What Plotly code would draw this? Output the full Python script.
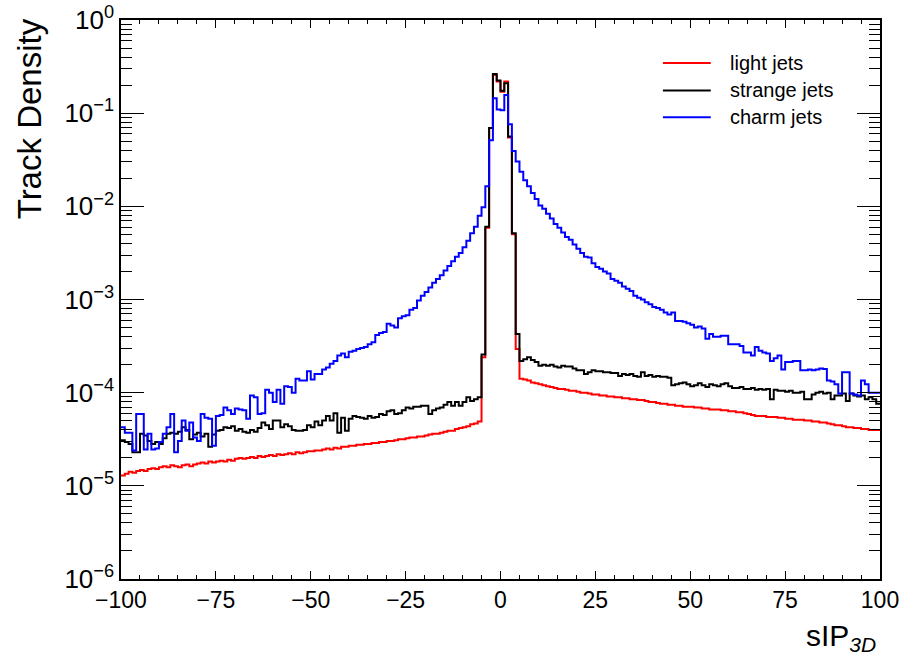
import plotly.graph_objects as go

# Histogram binning: 200 bins of width 1 in sIP3D, from -100 to 100
bin_low = list(range(-100, 100))
bin_width = 1

# Track density per bin, stored as log10(density)
light_log10 = [
    -4.89, -4.87, -4.85, -4.86, -4.84, -4.83, -4.84, -4.82, -4.81, -4.82,
    -4.80, -4.79, -4.80, -4.78, -4.79, -4.80, -4.78, -4.77, -4.79, -4.77,
    -4.76, -4.75, -4.76, -4.74, -4.75, -4.74, -4.73, -4.74, -4.72, -4.73,
    -4.71, -4.70, -4.71, -4.70, -4.69, -4.70, -4.68, -4.69, -4.68, -4.67,
    -4.68, -4.66, -4.67, -4.66, -4.65, -4.66, -4.64, -4.65, -4.64, -4.63,
    -4.63, -4.62, -4.62, -4.61, -4.60, -4.61, -4.59, -4.60, -4.58, -4.58,
    -4.57, -4.57, -4.56, -4.56, -4.55, -4.55, -4.54, -4.54, -4.53, -4.53,
    -4.52, -4.52, -4.51, -4.50, -4.50, -4.49, -4.48, -4.48, -4.47, -4.47,
    -4.46, -4.45, -4.44, -4.44, -4.43, -4.42, -4.41, -4.41, -4.39, -4.38,
    -4.37, -4.36, -4.34, -4.33, -4.31,
    -3.62, -2.23, -1.16, -0.59, -0.66, -0.77, -0.66, -1.26, -2.30, -3.53,
    -3.85, -3.86, -3.87, -3.89, -3.90, -3.91, -3.92, -3.93, -3.94, -3.95,
    -3.96, -3.96, -3.97, -3.98, -3.98, -3.99, -4.00, -4.00, -4.01, -4.02,
    -4.02, -4.03, -4.03, -4.04, -4.04, -4.05, -4.05, -4.06, -4.06, -4.07,
    -4.07, -4.08, -4.08, -4.09, -4.10, -4.10, -4.11, -4.12, -4.12, -4.13,
    -4.13, -4.14, -4.14, -4.15, -4.15, -4.15, -4.16, -4.16, -4.17, -4.17,
    -4.18, -4.18, -4.18, -4.19, -4.19, -4.20, -4.20, -4.21, -4.21, -4.22,
    -4.23, -4.24, -4.25, -4.25, -4.25, -4.26, -4.26, -4.26, -4.27, -4.27,
    -4.28, -4.28, -4.29, -4.29, -4.29, -4.30, -4.30, -4.31, -4.31, -4.32,
    -4.32, -4.33, -4.34, -4.35, -4.35, -4.36, -4.37, -4.37, -4.38, -4.38,
    -4.39, -4.39, -4.40, -4.40, -4.40,
]

strange_log10 = [
    -4.51, -4.53, -4.55, -4.64, -4.64, -4.44, -4.46, -4.52, -4.55, -4.53,
    -4.55, -4.49, -4.44, -4.43, -4.44, -4.42, -4.37, -4.40, -4.50, -4.45,
    -4.43, -4.47, -4.44, -4.58, -4.45, -4.41, -4.40, -4.37, -4.38, -4.36,
    -4.41, -4.39, -4.42, -4.43, -4.40, -4.42, -4.38, -4.32, -4.35, -4.39,
    -4.30, -4.30, -4.37, -4.34, -4.36, -4.40, -4.41, -4.41, -4.40, -4.35,
    -4.37, -4.31, -4.35, -4.30, -4.25, -4.30, -4.22, -4.43, -4.27, -4.41,
    -4.28, -4.25, -4.26, -4.27, -4.28, -4.25, -4.27, -4.26, -4.23, -4.24,
    -4.20, -4.19, -4.23, -4.22, -4.19, -4.16, -4.17, -4.15, -4.15, -4.14,
    -4.14, -4.23, -4.19, -4.17, -4.16, -4.13, -4.10, -4.14, -4.10, -4.14,
    -4.10, -4.05, -4.09, -4.07, -4.05,
    -3.59, -2.22, -1.16, -0.58, -0.65, -0.76, -0.68, -1.25, -2.29, -3.37,
    -3.66, -3.64, -3.62, -3.65, -3.67, -3.71, -3.70, -3.71, -3.70, -3.72,
    -3.73, -3.71, -3.72, -3.72, -3.74, -3.76, -3.76, -3.80, -3.78, -3.76,
    -3.77, -3.77, -3.78, -3.78, -3.79, -3.79, -3.82, -3.80, -3.81, -3.80,
    -3.82, -3.83, -3.78, -3.82, -3.81, -3.83, -3.82, -3.83, -3.83, -3.84,
    -3.92, -3.91, -3.90, -3.89, -3.91, -3.93, -3.92, -3.90, -3.92, -3.94,
    -3.91, -3.92, -3.93, -3.91, -3.90, -3.93, -3.95, -3.95, -3.94, -3.96,
    -3.96, -3.95, -3.97, -3.96, -3.97, -3.96, -4.07, -3.97, -3.98, -3.98,
    -3.99, -3.98, -4.00, -4.00, -3.99, -4.07, -4.07, -4.02, -4.00, -3.99,
    -4.01, -4.00, -4.07, -4.03, -4.03, -4.01, -4.09, -4.01, -4.03, -4.04,
    -4.03, -4.07, -4.05, -4.07, -4.12,
]

charm_log10 = [
    -4.37, -4.43, -4.43, -4.62, -4.23, -4.23, -4.61, -4.44, -4.61, -4.60,
    -4.53, -4.44, -4.37, -4.23, -4.64, -4.52, -4.30, -4.41, -4.32, -4.48,
    -4.52, -4.23, -4.27, -4.28, -4.57, -4.25, -4.24, -4.16, -4.19, -4.23,
    -4.17, -4.18, -4.19, -4.28, -4.03, -4.05, -4.23, -4.22, -3.97, -4.00,
    -4.10, -3.97, -4.12, -3.93, -3.94, -4.00, -3.85, -3.87, -3.87, -3.77,
    -3.86, -3.80, -3.80, -3.75, -3.73, -3.69, -3.66, -3.60, -3.58, -3.62,
    -3.56, -3.55, -3.53, -3.52, -3.51, -3.48, -3.46, -3.38, -3.36, -3.35,
    -3.26, -3.28, -3.30, -3.20, -3.18, -3.17, -3.11, -3.09, -3.01, -2.96,
    -2.92, -2.87, -2.82, -2.78, -2.74, -2.69, -2.64, -2.59, -2.54, -2.50,
    -2.44, -2.37, -2.29, -2.22, -2.10,
    -2.01, -1.785, -1.29, -0.84, -0.96, -0.97, -0.806, -1.12, -1.405, -1.52,
    -1.63, -1.72, -1.785, -1.857, -1.92, -1.99, -2.025, -2.08, -2.13, -2.19,
    -2.23, -2.28, -2.33, -2.36, -2.41, -2.455, -2.50, -2.54, -2.55, -2.61,
    -2.65, -2.67, -2.70, -2.72, -2.78, -2.80, -2.82, -2.86, -2.885, -2.91,
    -2.96, -2.98, -3.00, -3.03, -3.05, -3.08, -3.09, -3.11, -3.14, -3.16,
    -3.14, -3.23, -3.23, -3.24, -3.255, -3.27, -3.30, -3.29, -3.31, -3.42,
    -3.37, -3.40, -3.40, -3.39, -3.39, -3.48, -3.48, -3.48, -3.50, -3.57,
    -3.57, -3.60, -3.51, -3.55, -3.57, -3.58, -3.66, -3.63, -3.60, -3.75,
    -3.67, -3.67, -3.66, -3.66, -3.76, -3.76, -3.75, -3.76, -3.75, -3.74,
    -3.745, -3.87, -3.88, -3.91, -4.01, -3.78, -3.78, -4.01, -4.02, -4.03,
    -3.87, -3.91, -4.00, -4.00, -4.00,
]

series = [
    ("light jets", light_log10, "#ff0000"),
    ("strange jets", strange_log10, "#000000"),
    ("charm jets", charm_log10, "#0000ff"),
]

y_tick_exponents = [-6, -5, -4, -3, -2, -1, 0]
FONT = "Liberation Sans, Arial, Helvetica, sans-serif"

fig = go.Figure()

for name, logs, color in series:
    dens = [10 ** v for v in logs]
    # step outline: each bin value held from its low edge to its high edge
    xs = bin_low + [bin_low[-1] + bin_width]
    ys = dens + [dens[-1]]
    fig.add_trace(go.Scatter(
        x=xs, y=ys, mode="lines", name=name,
        line=dict(color=color, width=2, shape="hv"),
        showlegend=False, hoverinfo="skip",
    ))

# legend drawn in the ROOT TLegend style (line sample + label)
legend_rows = [0.923, 0.874, 0.826]
for (name, _, color), yrow in zip(series, legend_rows):
    fig.add_shape(type="line", xref="paper", yref="paper",
                  x0=0.714, x1=0.777, y0=yrow, y1=yrow,
                  line=dict(color=color, width=2))
    fig.add_annotation(xref="paper", yref="paper", x=0.80, y=yrow,
                       xanchor="left", yanchor="middle", showarrow=False,
                       text=name, font=dict(family=FONT, size=20, color="black"))

minor_y = [m * 10 ** e for e in range(-6, 0) for m in range(2, 10)]

fig.update_xaxes(
    range=[-100, 100], tickmode="linear", tick0=-100, dtick=25,
    ticks="inside", ticklen=8, tickwidth=1, tickcolor="black",
    minor=dict(dtick=5, tick0=-100, ticks="inside", ticklen=4,
               tickwidth=1, tickcolor="black"),
    showline=True, linecolor="black", linewidth=1.5, mirror="ticks",
    showgrid=False, zeroline=False, automargin=False,
    tickfont=dict(family=FONT, size=23, color="black"),
)
fig.update_yaxes(
    type="log", range=[-6, 0],
    tickmode="array", tickvals=[10 ** e for e in y_tick_exponents],
    ticktext=["10<sup>%s</sup>" % (str(e).replace("-", "\u2212")) for e in y_tick_exponents],
    ticks="inside", ticklen=23, tickwidth=1, tickcolor="black",
    minor=dict(tickvals=minor_y, ticks="inside", ticklen=11,
               tickwidth=1, tickcolor="black"),
    showline=True, linecolor="black", linewidth=1.5, mirror="ticks",
    showgrid=False, zeroline=False, automargin=False,
    tickfont=dict(family=FONT, size=26, color="black"),
)

# axis titles, ROOT style (right/top aligned)
fig.add_annotation(xref="paper", yref="paper", x=-0.121, y=1.006,
                   xanchor="center", yanchor="top", textangle=-90,
                   showarrow=False, text="Track Density",
                   font=dict(family=FONT, size=33, color="black"))
fig.add_annotation(xref="paper", yref="paper", x=0.997, y=-0.104,
                   xanchor="right", yanchor="middle", showarrow=False,
                   text="sIP<sub><i>3D</i></sub>",
                   font=dict(family=FONT, size=30, color="black"))

fig.update_layout(
    width=916, height=659,
    margin=dict(l=121, r=36, t=20, b=80),
    paper_bgcolor="white", plot_bgcolor="white",
    font=dict(family=FONT, color="black"),
)

fig.write_html("out.html")
